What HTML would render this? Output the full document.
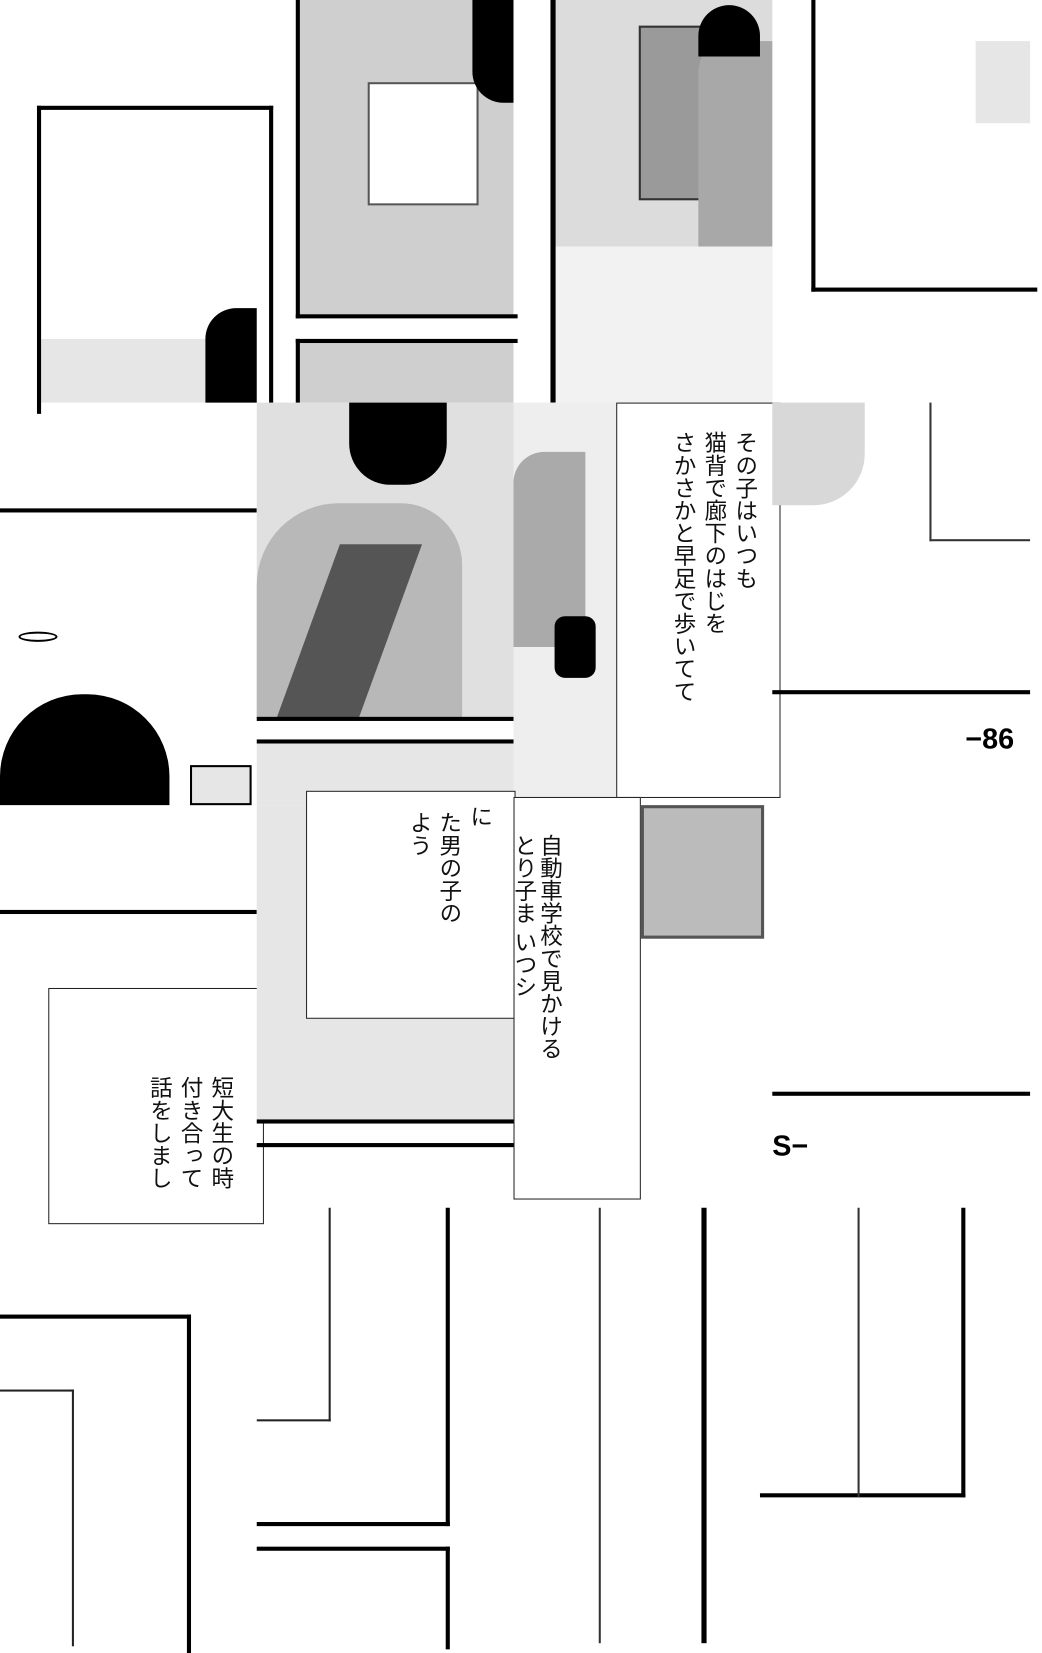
<!DOCTYPE html>
<html><head><meta charset="utf-8"><style>
html,body{margin:0;padding:0;background:#fff;}
body{width:1042px;height:1600px;position:relative;overflow:hidden;font-family:"Liberation Sans","Noto Sans CJK JP",sans-serif;}
#w{position:absolute;left:0;top:0;width:1015px;height:1560px;transform:scale(1.027);transform-origin:0 0;}
.a{position:absolute;box-sizing:border-box;}
.b{border:4px solid #000;}
.h{background:#000;}
.g{background:#cfcfcf;}
.lg{background:#e6e6e6;}
.v{writing-mode:vertical-rl;font-size:22px;line-height:30px;color:#111;white-space:nowrap;}
.tb{border:1.5px solid #222;background:#fff;}
</style></head><body><div id="w">
<!-- Row 1 -->
<div class="a lg" style="left:40px;top:330px;width:160px;height:62px"></div>
<div class="a b" style="left:36px;top:103px;width:230px;height:300px;border-bottom:none"></div>
<div class="a h" style="left:200px;top:300px;width:50px;height:92px;border-radius:30px 0 0 0"></div>
<div class="a g" style="left:292px;top:0;width:208px;height:306px"></div>
<div class="a" style="left:358px;top:80px;width:108px;height:120px;background:#fff;border:2px solid #555"></div>
<div class="a b" style="left:288px;top:0;width:216px;height:310px;border-top:none;border-right:none"></div>
<div class="a h" style="left:460px;top:0;width:40px;height:100px;border-radius:0 0 0 30px"></div>
<div class="a g" style="left:288px;top:330px;width:212px;height:62px"></div>
<div class="a b" style="left:288px;top:330px;width:216px;height:70px;border-right:none;border-bottom:none"></div>
<div class="a g" style="left:540px;top:0;width:212px;height:392px;background:#dcdcdc"></div>
<div class="a" style="left:540px;top:240px;width:212px;height:152px;background:#f2f2f2"></div>
<div class="a" style="left:622px;top:25px;width:70px;height:170px;background:#9a9a9a;border:2px solid #333"></div>
<div class="a" style="left:680px;top:40px;width:72px;height:200px;background:#a8a8a8;border-radius:30px 0 0 0"></div>
<div class="a h" style="left:680px;top:5px;width:60px;height:50px;border-radius:30px 30px 0 0"></div>
<div class="a h" style="left:536px;top:0;width:5px;height:392px"></div>
<div class="a b" style="left:790px;top:0;width:220px;height:284px;border-top:none;border-right:none"></div>
<div class="a lg" style="left:950px;top:40px;width:53px;height:80px"></div>
<!-- Row 2 -->
<div class="a h" style="left:0;top:495px;width:250px;height:4px"></div>
<div class="a" style="left:18px;top:615px;width:38px;height:10px;border:2px solid #000;border-radius:50%"></div>
<div class="a h" style="left:0;top:676px;width:165px;height:108px;border-radius:80px 80px 0 0"></div>
<div class="a lg" style="left:185px;top:745px;width:60px;height:39px;border:2px solid #000"></div>
<div class="a" style="left:250px;top:392px;width:250px;height:308px;background:#e0e0e0"></div>
<div class="a h" style="left:340px;top:392px;width:95px;height:80px;border-radius:0 0 40px 40px"></div>
<div class="a" style="left:250px;top:490px;width:200px;height:210px;background:#b8b8b8;border-radius:80px 60px 0 0"></div>
<div class="a" style="left:300px;top:530px;width:80px;height:170px;background:#555;transform:skewX(-20deg)"></div>
<div class="a h" style="left:250px;top:698px;width:250px;height:4px"></div>
<div class="a h" style="left:250px;top:720px;width:250px;height:4px"></div>
<div class="a lg" style="left:250px;top:724px;width:250px;height:60px"></div>
<div class="a" style="left:500px;top:392px;width:100px;height:392px;background:#eee"></div>
<div class="a" style="left:500px;top:440px;width:70px;height:190px;background:#aaa;border-radius:30px 0 0 0"></div>
<div class="a h" style="left:540px;top:600px;width:40px;height:60px;border-radius:10px"></div>
<div class="a tb" style="left:600px;top:392px;width:160px;height:385px"></div>
<div class="a v" style="left:650px;top:420px;">さかさかと早足で歩いてて</div>
<div class="a v" style="left:680px;top:420px;">猫背で廊下のはじを</div>
<div class="a v" style="left:710px;top:420px;">その子はいつも</div>
<div class="a" style="left:752px;top:392px;width:90px;height:100px;background:#d8d8d8;border-radius:0 0 50px 0"></div>
<div class="a" style="left:905px;top:392px;width:98px;height:135px;border-left:2px solid #333;border-bottom:2px solid #333"></div>
<div class="a h" style="left:752px;top:672px;width:251px;height:4px"></div>
<div class="a" style="left:940px;top:704px;font-size:28px;font-weight:bold;">−86</div>
<!-- Row 3 -->
<div class="a h" style="left:0;top:886px;width:250px;height:4px"></div>
<div class="a tb" style="left:47px;top:962px;width:210px;height:230px"></div>
<div class="a v" style="left:140px;top:1048px;">話をしまし</div>
<div class="a v" style="left:170px;top:1048px;">付き合って</div>
<div class="a v" style="left:200px;top:1048px;">短大生の時</div>
<div class="a lg" style="left:250px;top:784px;width:250px;height:310px"></div>
<div class="a tb" style="left:298px;top:770px;width:204px;height:222px"></div>
<div class="a v" style="left:393px;top:790px;">よう</div>
<div class="a v" style="left:422px;top:790px;">た男の子の</div>
<div class="a v" style="left:452px;top:784px;">に</div>
<div class="a h" style="left:250px;top:1090px;width:250px;height:4px"></div>
<div class="a h" style="left:250px;top:1113px;width:250px;height:4px"></div>
<div class="a tb" style="left:500px;top:776px;width:124px;height:392px"></div>
<div class="a v" style="left:495px;top:812px;">とり子ま いつシ</div>
<div class="a v" style="left:520px;top:812px;">自動車学校で見かける</div>
<div class="a" style="left:624px;top:784px;width:120px;height:130px;background:#bbb;border:3px solid #555"></div>
<div class="a h" style="left:752px;top:1063px;width:251px;height:4px"></div>
<div class="a" style="left:752px;top:1100px;font-size:28px;font-weight:bold;">S−</div>
<!-- Row 4 -->
<div class="a b" style="left:0;top:1280px;width:186px;height:330px;border-left:none;border-bottom:none"></div>
<div class="a" style="left:0;top:1353px;width:72px;height:250px;border-right:2px solid #222;border-top:2px solid #222"></div>
<div class="a" style="left:250px;top:1176px;width:72px;height:208px;border-right:2px solid #222;border-bottom:2px solid #222"></div>
<div class="a b" style="left:250px;top:1176px;width:188px;height:310px;border-left:none;border-top:none"></div>
<div class="a b" style="left:250px;top:1506px;width:188px;height:100px;border-left:none;border-bottom:none"></div>
<div class="a" style="left:583px;top:1176px;width:2px;height:424px;background:#333"></div>
<div class="a h" style="left:683px;top:1176px;width:5px;height:424px"></div>
<div class="a b" style="left:740px;top:1176px;width:200px;height:282px;border-left:none;border-top:none"></div>
<div class="a" style="left:835px;top:1176px;width:2px;height:282px;background:#333"></div>
</div></body></html>
